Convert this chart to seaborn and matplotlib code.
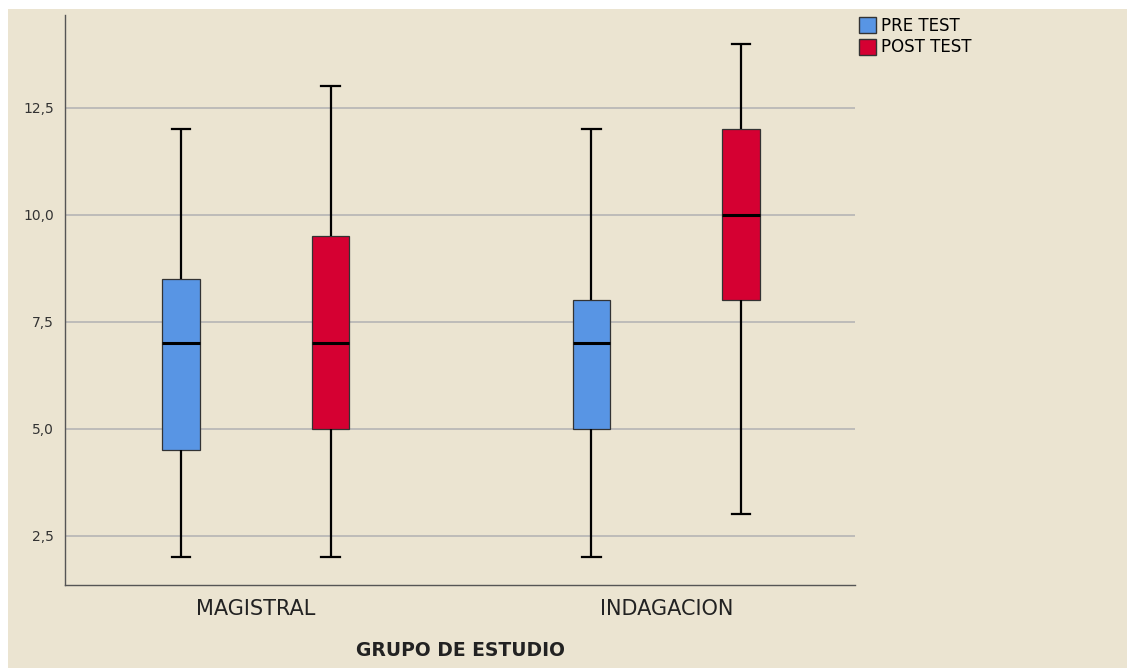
import numpy as np
import pandas as pd
import matplotlib
matplotlib.use("Agg")
import matplotlib.pyplot as plt
from matplotlib.patches import Rectangle, Patch
from matplotlib.ticker import FuncFormatter
import seaborn as sns

grupos = ["MAGISTRAL", "INDAGACION"]
tests = ["PRE TEST", "POST TEST"]

# min, Q1, mediana, Q3, max
mag_pre = [2, 4.5, 7, 8.5, 12]
mag_post = [2, 5, 7, 9.5, 13]
ind_pre = [2, 5, 7, 8, 12]
ind_post = [3, 8, 10, 12, 14]

colores = ["#5895E4", "#D50032"]
fondo = "#EBE4D1"

rows = []
for g, t, vals in [("MAGISTRAL", "PRE TEST", mag_pre), ("MAGISTRAL", "POST TEST", mag_post),
                   ("INDAGACION", "PRE TEST", ind_pre), ("INDAGACION", "POST TEST", ind_post)]:
    for v in vals:
        rows.append({"grupo": g, "test": t, "nota": v})
df = pd.DataFrame(rows)

fig = plt.figure(figsize=(11.27, 6.68), dpi=100, facecolor="white")
fig.patches.append(Rectangle((8 / 1127, 0), 1, 1 - 9 / 668, transform=fig.transFigure,
                             facecolor=fondo, edgecolor="none", zorder=-10))
ax = fig.add_axes([65 / 1127, 1 - 585 / 668, (855 - 65) / 1127, (585 - 15) / 668])
ax.set_facecolor(fondo)

sns.boxplot(data=df, x="grupo", y="nota", hue="test", order=grupos, hue_order=tests,
            palette=colores, width=0.73, gap=0.75, whis=(0, 100), saturation=1,
            linecolor="black", linewidth=1.0,
            medianprops={"color": "black", "linewidth": 2.2},
            boxprops={"edgecolor": "#333333", "linewidth": 0.9},
            whiskerprops={"color": "black", "linewidth": 1.6},
            capprops={"color": "black", "linewidth": 1.6},
            legend=False, ax=ax)

ax.set_ylim(1.35, 14.67)
ax.set_xlim(-0.465, 1.46)
ax.set_yticks([2.5, 5.0, 7.5, 10.0, 12.5])
ax.yaxis.set_major_formatter(FuncFormatter(lambda v, p: f"{v:.1f}".replace(".", ",")))
ax.grid(axis="y", color="#B5B5B5", linewidth=1.2)
ax.set_axisbelow(True)
for s in ["top", "right"]:
    ax.spines[s].set_visible(False)
for s in ["left", "bottom"]:
    ax.spines[s].set_color("#555555")
    ax.spines[s].set_linewidth(1.0)
ax.tick_params(axis="y", length=0, labelsize=10, colors="#333333", pad=8)
ax.tick_params(axis="x", length=0, labelsize=15, colors="#222222", pad=10)
ax.set_ylabel("")
ax.set_xlabel("GRUPO DE ESTUDIO", fontsize=13.5, fontweight="bold", color="#222222", labelpad=16)

handles = [Patch(facecolor=c, edgecolor="#333333", label=t) for c, t in zip(colores, tests)]
fig.legend(handles=handles, loc="upper left", bbox_to_anchor=(859 / 1127, 1 - 17 / 668),
           frameon=False, fontsize=12, handlelength=1.0, handleheight=1.1,
           handletextpad=0.3, labelspacing=0.2, borderaxespad=0, borderpad=0)

fig.savefig("out.png", dpi=100, facecolor=fig.get_facecolor())
